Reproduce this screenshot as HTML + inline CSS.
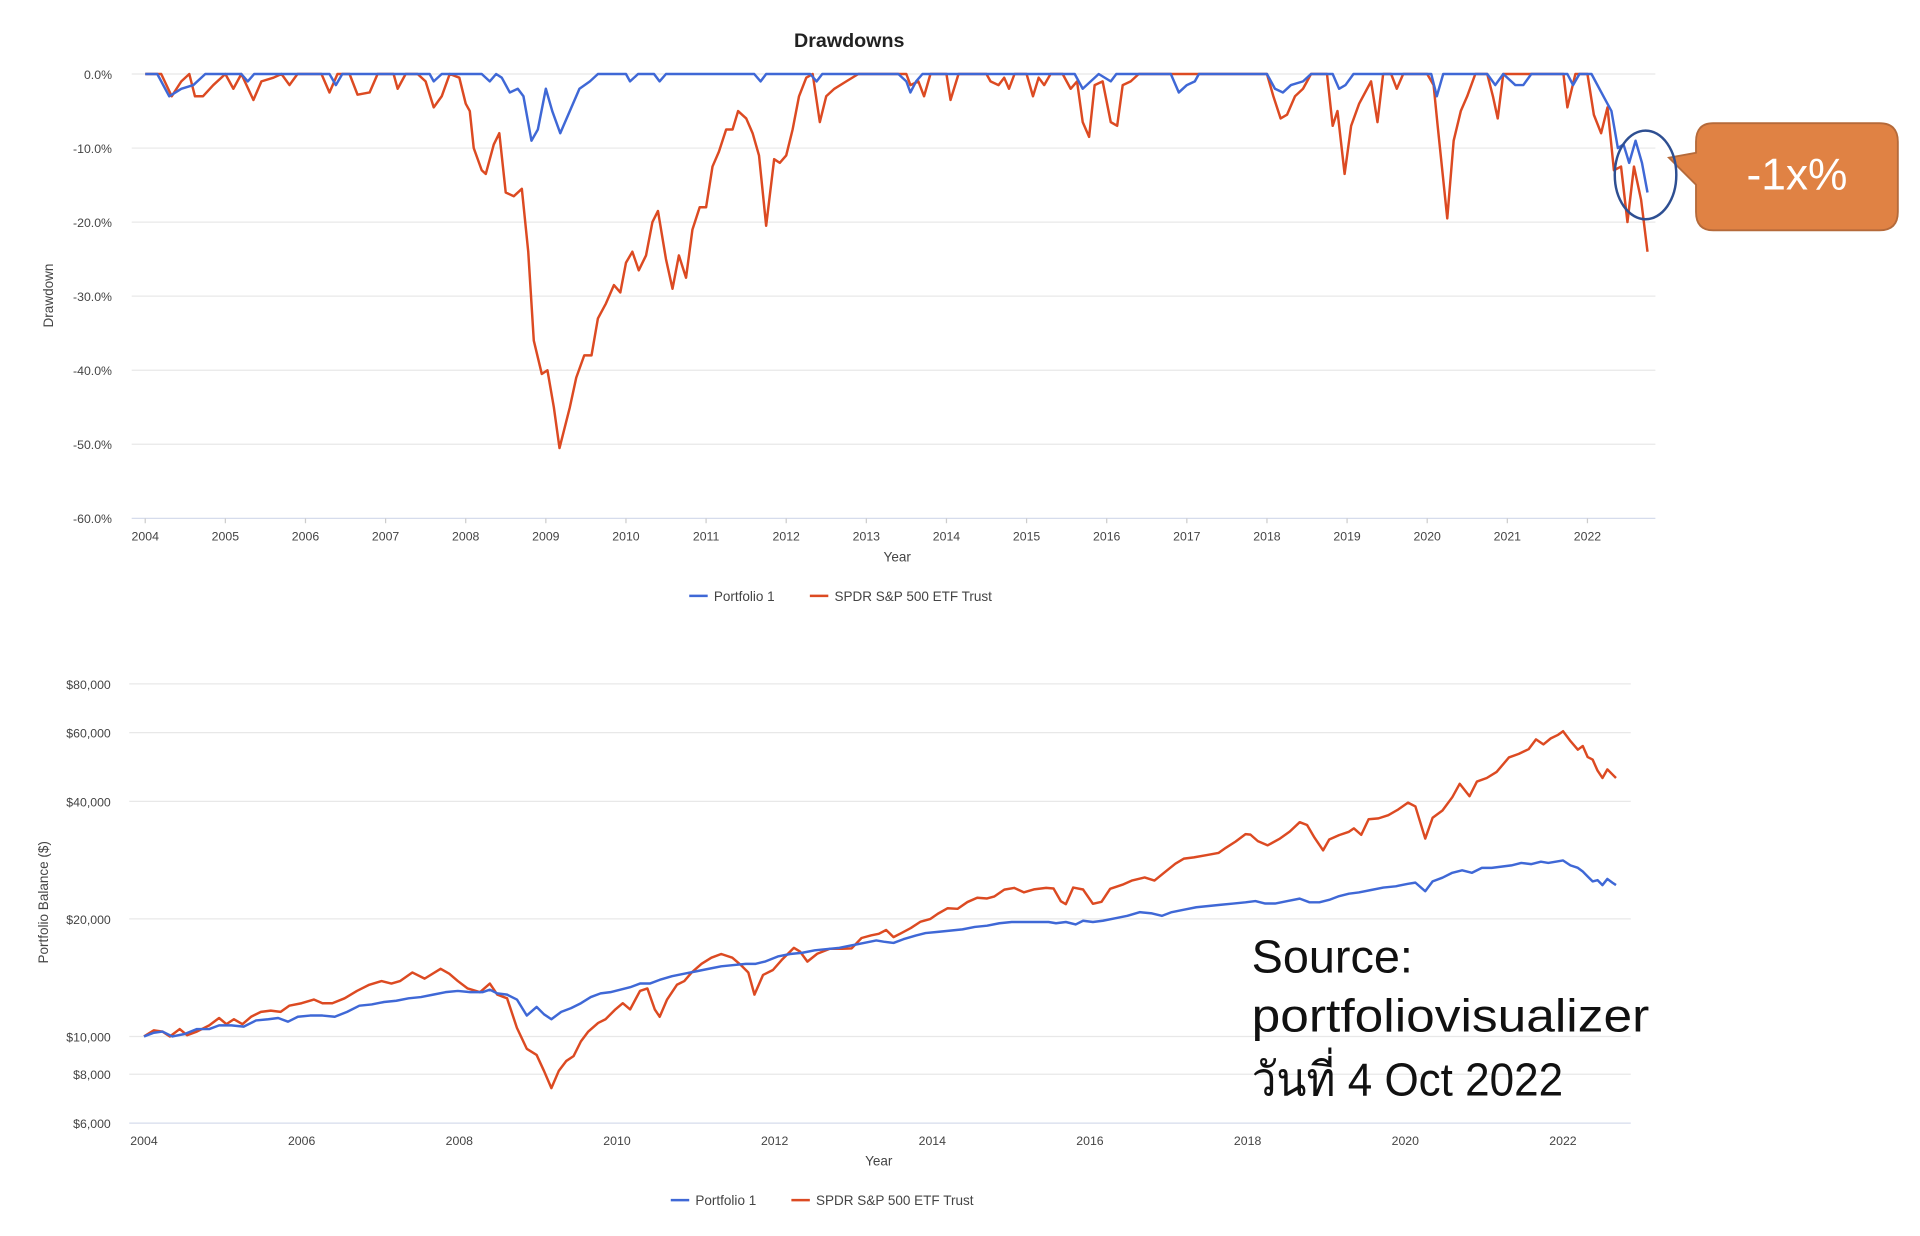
<!DOCTYPE html>
<html><head><meta charset="utf-8"><style>
html,body{margin:0;padding:0;background:#fff;width:1920px;height:1236px;overflow:hidden}
svg{display:block}
text{font-family:"Liberation Sans",Arial,sans-serif}
</style></head><body>
<svg id="s" width="1920" height="1236" viewBox="0 0 1560 1004" xmlns="http://www.w3.org/2000/svg">
<rect width="1560" height="1004" fill="#fff"/>
<text x="690" y="38" font-size="16" font-weight="bold" text-anchor="middle" fill="#222">Drawdowns</text>
<g id="g1" stroke="#e8e8e8" stroke-width="1"></g>
<g font-size="10" fill="#444" text-anchor="end" id="yl1"></g>
<g font-size="10" fill="#444" text-anchor="middle" id="xl1"></g>
<text x="729" y="456" font-size="11" fill="#444" text-anchor="middle">Year</text>
<text transform="translate(43,240) rotate(-90)" font-size="11" fill="#444" text-anchor="middle">Drawdown</text>
<line x1="560" y1="484" x2="575" y2="484" stroke="#3f68d6" stroke-width="2"/>
<text x="580" y="488" font-size="11" fill="#444">Portfolio 1</text>
<line x1="658" y1="484" x2="673" y2="484" stroke="#dc4a22" stroke-width="2"/>
<text x="678" y="488" font-size="11" fill="#444">SPDR S&amp;P 500 ETF Trust</text>
<polyline id="dspy" fill="none" stroke="#dc4a22" stroke-width="2" stroke-linejoin="round"/>
<polyline id="dp1" fill="none" stroke="#3f68d6" stroke-width="2" stroke-linejoin="round"/>

<g id="g2" stroke="#e8e8e8" stroke-width="1"></g>
<g font-size="10" fill="#444" text-anchor="end" id="yl2"></g>
<g font-size="10" fill="#444" text-anchor="middle" id="xl2"></g>
<text x="714" y="947" font-size="11" fill="#444" text-anchor="middle">Year</text>
<text transform="translate(39,733) rotate(-90)" font-size="11" fill="#444" text-anchor="middle">Portfolio Balance ($)</text>
<line x1="545" y1="975" x2="560" y2="975" stroke="#3f68d6" stroke-width="2"/>
<text x="565" y="979" font-size="11" fill="#444">Portfolio 1</text>
<line x1="643" y1="975" x2="658" y2="975" stroke="#dc4a22" stroke-width="2"/>
<text x="663" y="979" font-size="11" fill="#444">SPDR S&amp;P 500 ETF Trust</text>
<polyline id="bspy" fill="none" stroke="#dc4a22" stroke-width="2" stroke-linejoin="round"/>
<polyline id="bp1" fill="none" stroke="#3f68d6" stroke-width="2" stroke-linejoin="round"/>

<path d="M1392,100 H1527 Q1542,100 1542,115 V172 Q1542,187 1527,187 H1392 Q1378,187 1378,172 V150 L1356,128 L1378,124 V115 Q1378,100 1392,100 Z" fill="#e08244" stroke="#b56a3a" stroke-width="1.5"/>
<text x="1460" y="154" font-size="36" fill="#fff" text-anchor="middle">-1x%</text>
<ellipse cx="1337" cy="142" rx="25" ry="36" fill="none" stroke="#2e4f92" stroke-width="2"/>

<text x="1017" y="790" font-size="38" fill="#111">Source:</text>
<text x="1017" y="838" font-size="38" fill="#111" textLength="323" lengthAdjust="spacingAndGlyphs">portfoliovisualizer</text>
<text x="1017" y="890" font-size="38" fill="#111" font-family="'Liberation Sans','Noto Sans CJK SC',sans-serif" textLength="253" lengthAdjust="spacingAndGlyphs">วันที่ 4 Oct 2022</text>
</svg>
<script>
var NS="http://www.w3.org/2000/svg";
function el(p,t,a,txt){var e=document.createElementNS(NS,t);for(var k in a)e.setAttribute(k,a[k]);if(txt)e.textContent=txt;document.getElementById(p).appendChild(e);}
for(var i=0;i<=6;i++){var y=60+i*60.17;el("g1","line",{x1:107,x2:1345,y1:y,y2:y,stroke:i==6?"#d6dcec":"#e8e8e8"});el("yl1","text",{x:91,y:y+4},(i==0?"0.0":"-"+i*10+".0")+"%");}
for(var yr=2004;yr<=2022;yr++){var x=118+(yr-2004)*65.1;el("xl1","text",{x:x,y:439},""+yr);el("g1","line",{x1:x,x2:x,y1:421,y2:425,stroke:"#ccc"});}
function tx(y){return 118+(y-2004)*65.1}function ty(d){return 60-d*6.017}
var spy=[[2004,0],[2004.2,0],[2004.33,-3],[2004.45,-1],[2004.55,0],[2004.62,-3],[2004.72,-3],[2004.85,-1.5],[2005,0],[2005.1,-2],[2005.2,0],[2005.35,-3.5],[2005.45,-1],[2005.6,-.5],[2005.7,0],[2005.8,-1.5],[2005.9,0],[2006.2,0],[2006.3,-2.5],[2006.4,0],[2006.55,0],[2006.65,-2.8],[2006.8,-2.5],[2006.9,0],[2007.1,0],[2007.15,-2],[2007.25,0],[2007.4,0],[2007.5,-1],[2007.6,-4.5],[2007.7,-3],[2007.8,0],[2007.92,-.5],[2008,-4],[2008.05,-5],[2008.1,-10],[2008.2,-13],[2008.25,-13.5],[2008.35,-9.5],[2008.42,-8],[2008.5,-16],[2008.6,-16.5],[2008.7,-15.5],[2008.78,-24],[2008.85,-36],[2008.95,-40.5],[2009.02,-40],[2009.1,-45],[2009.17,-50.5],[2009.3,-45],[2009.38,-41],[2009.48,-38],[2009.57,-38],[2009.65,-33],[2009.75,-31],[2009.85,-28.5],[2009.93,-29.5],[2010,-25.5],[2010.08,-24],[2010.16,-26.5],[2010.25,-24.5],[2010.33,-20],[2010.4,-18.5],[2010.5,-25],[2010.58,-29],[2010.66,-24.5],[2010.75,-27.5],[2010.83,-21],[2010.92,-18],[2011,-18],[2011.08,-12.5],[2011.16,-10.5],[2011.25,-7.5],[2011.33,-7.5],[2011.4,-5],[2011.5,-6],[2011.58,-8],[2011.66,-11],[2011.75,-20.5],[2011.85,-11.5],[2011.92,-12],[2012,-11],[2012.08,-7.5],[2012.16,-3],[2012.25,-.5],[2012.33,0],[2012.42,-6.5],[2012.5,-3],[2012.6,-2],[2012.75,-1],[2012.9,0],[2013.5,0],[2013.55,-1.5],[2013.65,-1],[2013.72,-3],[2013.8,0],[2014,0],[2014.05,-3.5],[2014.15,0],[2014.5,0],[2014.55,-1],[2014.65,-1.5],[2014.72,-.5],[2014.78,-2],[2014.85,0],[2015,0],[2015.08,-3],[2015.15,-.5],[2015.22,-1.5],[2015.3,0],[2015.45,0],[2015.55,-2],[2015.63,-1],[2015.7,-6.5],[2015.78,-8.5],[2015.85,-1.5],[2015.95,-1],[2016.05,-6.5],[2016.13,-7],[2016.2,-1.5],[2016.3,-1],[2016.4,0],[2018,0],[2018.08,-3],[2018.17,-6],[2018.25,-5.5],[2018.35,-3],[2018.45,-2],[2018.55,0],[2018.75,0],[2018.82,-7],[2018.88,-5],[2018.97,-13.5],[2019.05,-7],[2019.15,-4],[2019.3,-1],[2019.38,-6.5],[2019.45,0],[2019.55,0],[2019.62,-2],[2019.7,0],[2020,0],[2020.08,-1.5],[2020.13,-7],[2020.25,-19.5],[2020.33,-9],[2020.42,-5],[2020.5,-3],[2020.6,0],[2020.75,0],[2020.82,-3],[2020.88,-6],[2020.95,0],[2021.6,0],[2021.7,0],[2021.75,-4.5],[2021.85,0],[2021.95,0],[2022,0],[2022.08,-5.5],[2022.17,-8],[2022.25,-4.5],[2022.33,-13],[2022.42,-12.5],[2022.5,-20],[2022.58,-12.5],[2022.67,-17],[2022.75,-24]];
var p1=[[2004,0],[2004.15,0],[2004.3,-3],[2004.45,-2],[2004.6,-1.5],[2004.75,0],[2005.2,0],[2005.28,-1],[2005.36,0],[2006.3,0],[2006.38,-1.5],[2006.46,0],[2007.55,0],[2007.6,-1],[2007.7,0],[2008.2,0],[2008.3,-1],[2008.38,0],[2008.45,-.5],[2008.55,-2.5],[2008.65,-2],[2008.72,-3],[2008.82,-9],[2008.9,-7.5],[2009,-2],[2009.08,-5],[2009.18,-8],[2009.3,-5],[2009.42,-2],[2009.55,-1],[2009.65,0],[2010,0],[2010.05,-1],[2010.15,0],[2010.35,0],[2010.42,-1],[2010.5,0],[2011,0],[2011.6,0],[2011.68,-1],[2011.75,0],[2012.3,0],[2012.38,-1],[2012.45,0],[2013.4,0],[2013.5,-1],[2013.55,-2.5],[2013.62,-1],[2013.7,0],[2015.6,0],[2015.7,-2],[2015.8,-1],[2015.9,0],[2016.05,-1],[2016.12,0],[2016.8,0],[2016.9,-2.5],[2017,-1.5],[2017.1,-1],[2017.15,0],[2018,0],[2018.1,-2],[2018.2,-2.5],[2018.3,-1.5],[2018.45,-1],[2018.55,0],[2018.82,0],[2018.9,-2],[2018.98,-1.5],[2019.08,0],[2020.05,0],[2020.12,-3],[2020.2,0],[2020.75,0],[2020.85,-1.5],[2020.95,0],[2021.1,-1.5],[2021.2,-1.5],[2021.3,0],[2021.75,0],[2021.82,-1.5],[2021.9,0],[2022.05,0],[2022.2,-3],[2022.3,-5],[2022.38,-10],[2022.45,-9.5],[2022.52,-12],[2022.6,-9],[2022.68,-12],[2022.75,-16]];
function set(id,a,fx,fy){document.getElementById(id).setAttribute("points",a.map(function(p){return fx(p[0]).toFixed(1)+","+fy(p[1]).toFixed(1)}).join(" "));}
set("dspy",spy,tx,ty);set("dp1",p1,tx,ty);
function by(v){return 842-95.5*Math.log2(v/10000)}
[80000,60000,40000,20000,10000,8000,6000].forEach(function(v){var y=by(v);el("g2","line",{x1:105,x2:1325,y1:y,y2:y,stroke:v==6000?"#d6dcec":"#e8e8e8"});el("yl2","text",{x:90,y:y+4},"$"+v.toLocaleString("en-US"));});
for(var yr=2004;yr<=2022;yr+=2){var x=117+(yr-2004)*64.05;el("xl2","text",{x:x,y:930},""+yr);}
var bs=[[117,842],[125,837],[132,838],[138,842],[146,836],[152,841],[160,838],[170,833],[178,827],[184,832],[190,828],[197,832],[204,826],[212,822],[220,821],[228,822],[235,817],[245,815],[255,812],[262,815],[270,815],[280,811],[290,805],[300,800],[310,797],[318,799],[325,797],[335,790],[345,795],[358,787],[365,791],[372,797],[380,803],[390,806],[398,799],[404,808],[412,811],[420,835],[428,852],[436,857],[442,870],[448,884],[454,870],[460,862],[466,858],[472,846],[478,838],[486,831],[492,828],[500,820],[506,815],[512,820],[520,805],[526,803],[532,820],[536,826],[542,812],[550,800],[556,797],[562,790],[570,783],[578,778],[586,775],[595,778],[602,784],[608,790],[613,808],[620,792],[628,788],[635,780],[645,770],[650,773],[656,780],[664,772],[674,766],[684,764],[692,762],[700,752],[708,746],[714,742],[720,736],[726,739],[732,733],[740,725],[748,716],[756,710],[762,705],[770,700],[778,700],[786,694],[794,690],[802,690],[808,688],[816,682],[824,680],[832,683],[840,680],[850,678],[856,678],[862,688],[866,690],[872,676],[880,677],[888,688],[895,686],[902,675],[912,671],[920,667],[930,664],[938,666],[946,659],[955,651],[962,646],[970,644],[980,641],[990,638],[996,633],[1004,627],[1012,620],[1016,620],[1022,625],[1030,628],[1040,622],[1048,616],[1056,608],[1062,610],[1068,620],[1075,630],[1080,621],[1088,617],[1096,614],[1100,611],[1106,616],[1112,603],[1120,602],[1128,599],[1136,594],[1144,588],[1150,591],[1158,617],[1164,600],[1172,594],[1180,583],[1186,572],[1194,582],[1200,570],[1208,567],[1216,562],[1226,550],[1234,547],[1242,543],[1248,535],[1254,539],[1260,534],[1266,531],[1270,528],[1276,536],[1282,543],[1286,540],[1290,549],[1294,551],[1298,560],[1302,566],[1306,559],[1310,563],[1313,566]];
var off=[[0,0],[650,0],[700,10],[757,37],[820,41],[885,46],[950,50],[1015,58],[1145,64],[1270,66],[1400,66]];
function offs(x){for(var i=0;i<off.length-1;i++){var a=off[i],b=off[i+1];if(x>=a[0]&&x<=b[0])return a[1]+(b[1]-a[1])*(x-a[0])/(b[0]-a[0]);}return 0;}
bs=bs.map(function(p){return [p[0],p[1]+offs(p[0])]});
var bp=[[117,842],[125,839],[132,838],[140,842],[150,840],[160,836],[170,836],[178,833],[188,833],[198,834],[208,829],[218,828],[226,827],[234,830],[242,826],[252,825],[262,825],[272,826],[282,822],[292,817],[302,816],[312,814],[322,813],[332,811],[342,810],[352,808],[362,806],[372,805],[382,806],[392,806],[398,804],[404,807],[412,808],[420,812],[428,825],[436,818],[442,824],[448,828],[456,822],[464,819],[472,815],[480,810],[488,807],[496,806],[504,804],[512,802],[520,799],[528,799],[536,796],[546,793],[556,791],[566,789],[576,787],[586,785],[596,784],[606,783],[614,783],[622,781],[632,777],[642,775],[652,774],[662,772],[672,771],[682,770],[692,768],[702,766],[712,764],[718,765],[726,766],[734,763],[744,760],[752,758],[762,757],[772,756],[782,755],[792,753],[802,752],[812,750],[822,749],[832,749],[842,749],[852,749],[858,750],[866,749],[874,751],[880,748],[888,749],[896,748],[906,746],[916,744],[926,741],[936,742],[944,744],[952,741],[962,739],[972,737],[982,736],[992,735],[1002,734],[1012,733],[1020,732],[1028,734],[1036,734],[1046,732],[1056,730],[1064,733],[1072,733],[1080,731],[1088,728],[1096,726],[1104,725],[1114,723],[1124,721],[1134,720],[1144,718],[1150,717],[1158,724],[1164,716],[1172,713],[1180,709],[1188,707],[1196,709],[1204,705],[1212,705],[1220,704],[1228,703],[1236,701],[1244,702],[1252,700],[1258,701],[1264,700],[1270,699],[1276,703],[1282,705],[1286,708],[1290,712],[1294,716],[1298,715],[1302,719],[1306,714],[1310,717],[1313,719]];
set("bspy",bs,function(x){return x},function(y){return y});set("bp1",bp,function(x){return x},function(y){return y});
</script>
</body></html>
